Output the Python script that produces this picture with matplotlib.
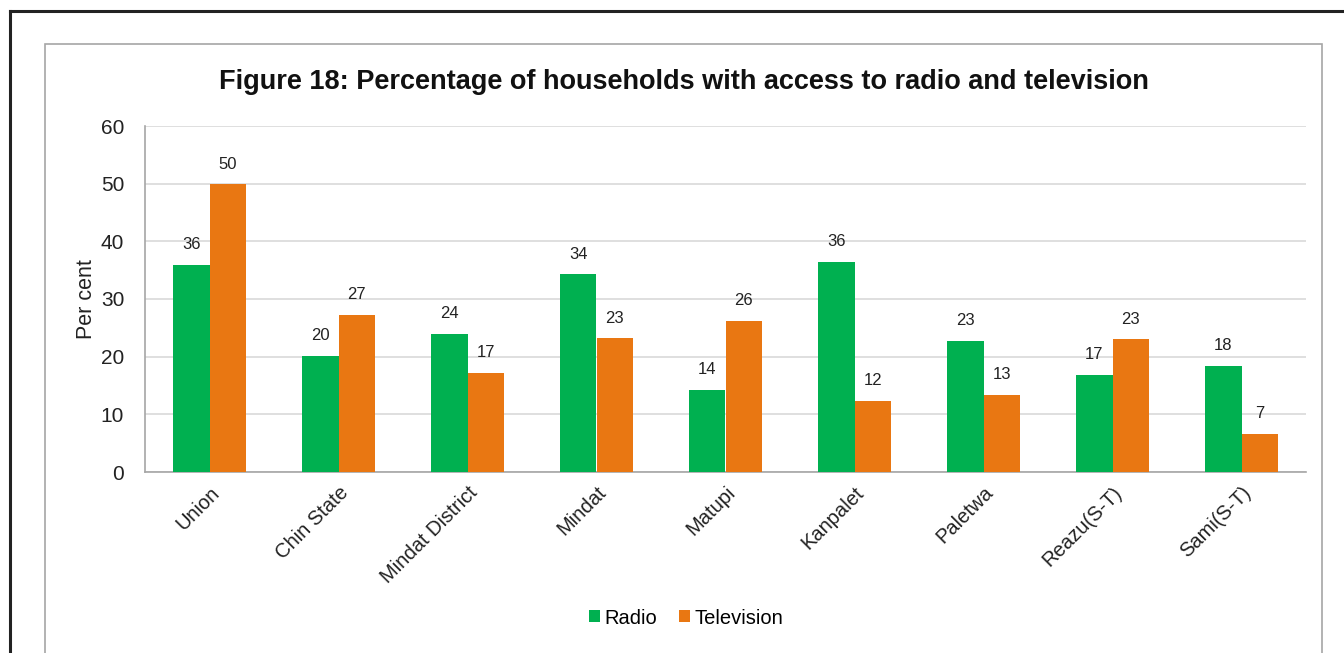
import matplotlib.pyplot as plt
import numpy as np
from matplotlib.lines import Line2D
from matplotlib.patches import Rectangle

plt.rcParams['font.family'] = ['Liberation Sans', 'DejaVu Sans']

categories = ['Union', 'Chin State', 'Mindat District', 'Mindat', 'Matupi',
              'Kanpalet', 'Paletwa', 'Reazu(S-T)', 'Sami(S-T)']
radio = [35.9, 20.1, 23.9, 34.3, 14.2, 36.4, 22.7, 16.8, 18.4]
television = [49.9, 27.2, 17.2, 23.2, 26.2, 12.3, 13.4, 23.0, 6.6]
series_names = ['Radio', 'Television']
colors = ['#00B050', '#E97712']

fig = plt.figure(figsize=(13.44, 6.53), dpi=100)
W, H = 1344, 653

# outer black frame (only left and top visible) and inner grey chart frame
fig.add_artist(Line2D([10 / W, 10 / W], [0, 1 - 11 / H], color='#222222', lw=2.2))
fig.add_artist(Line2D([10 / W, 1], [1 - 11 / H, 1 - 11 / H], color='#222222', lw=2.2))
fig.add_artist(Rectangle((45 / W, -0.05), (1322 - 45) / W, 1.05 - 44 / H,
                         fill=False, edgecolor='#A6A6A6', lw=1.2))

ax = fig.add_axes([145 / W, 1 - 472 / H, (1306 - 145) / W, (472 - 126) / H])

x = np.arange(len(categories))
width = 0.285
bars_r = ax.bar(x - width / 2, radio, width, color=colors[0], label=series_names[0], zorder=3)
bars_t = ax.bar(x + width / 2, television, width, color=colors[1], label=series_names[1], zorder=3)

for bars in (bars_r, bars_t):
    for b in bars:
        ax.text(b.get_x() + b.get_width() / 2, b.get_height() + 2.2, f"{b.get_height():.0f}",
                ha='center', va='bottom', fontsize=12, color='#222222')

ax.set_xlim(-0.5, len(categories) - 0.5)
ax.set_ylim(0, 60)
ax.set_yticks(range(0, 61, 10))
ax.yaxis.grid(True, color='#D9D9D9', lw=1.2, zorder=0)
ax.set_axisbelow(True)
for s in ('top', 'right'):
    ax.spines[s].set_visible(False)
for s in ('left', 'bottom'):
    ax.spines[s].set_color('#A6A6A6')
    ax.spines[s].set_linewidth(1.2)
ax.tick_params(length=0, labelsize=15, colors='#222222', pad=15)
ax.tick_params(axis='x', pad=8)
ax.set_xticks(x)
ax.set_xticklabels(categories, rotation=45, ha='right', rotation_mode='anchor', fontsize=14.5)
ax.set_ylabel('Per cent', fontsize=15.5, color='#222222')
ax.yaxis.set_label_coords((97 - 145) / 1161, 0.5)

fig.text(684 / W, 1 - 82 / H, 'Figure 18: Percentage of households with access to radio and television',
         ha='center', va='center', fontsize=19.5, fontweight='bold', color='#111111')

fig.legend(loc='center', bbox_to_anchor=(686 / W, 1 - 618 / H), ncol=2, frameon=False,
           fontsize=14.5, handlelength=0.55, handleheight=0.55, handletextpad=0.2, columnspacing=1.1)

fig.savefig('out.png', dpi=100)
